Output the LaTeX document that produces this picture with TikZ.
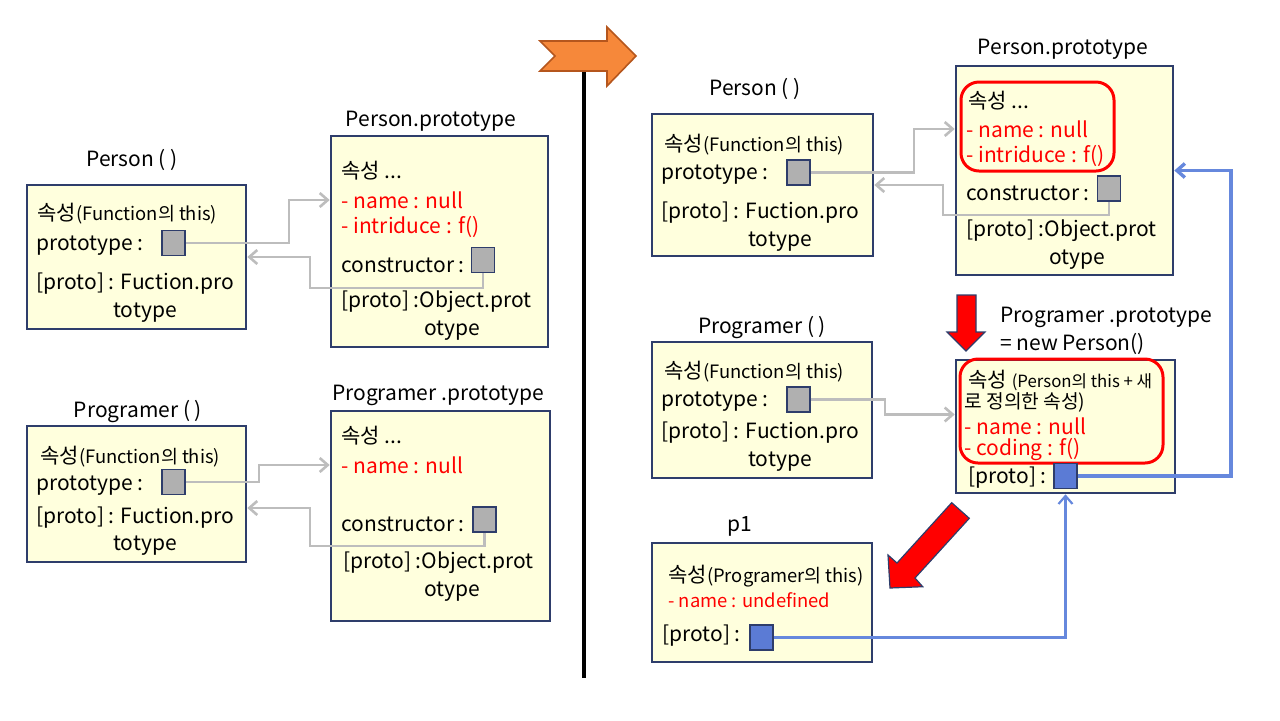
\documentclass[tikz,border=0pt]{standalone}
\usepackage{fontspec}
\setmainfont{Noto Sans CJK KR}
\usepackage{tikz}
\usetikzlibrary{arrows.meta, fit}

\definecolor{boxfill}{HTML}{FFFFDD}
\definecolor{boxline}{HTML}{2E3D6B}
\definecolor{refgray}{HTML}{B0B0B0}
\definecolor{linkgray}{HTML}{BDBDBD}
\definecolor{refblue}{HTML}{5B7BD5}
\definecolor{linkblue}{HTML}{6688DD}
\definecolor{flagorange}{HTML}{F6883A}
\definecolor{flagedge}{HTML}{B5561D}

\newcommand{\sm}[1]{{\fontsize{9.2}{11}\selectfont #1}}

\tikzset{
  objbox/.style={draw=boxline, fill=boxfill, line width=1.3pt, inner sep=0pt},
  ptr/.style={draw=boxline, fill=refgray, line width=0.8pt, inner sep=0pt,
    minimum width=11.5pt, minimum height=12.5pt},
  bptr/.style={ptr, fill=refblue},
  txt/.style={anchor=west, inner sep=0pt, yshift=-1.5pt, font=\fontsize{10.5}{12}\selectfont},
  ctxt/.style={txt, anchor=center},
  rtxt/.style={txt, text=red},
  glink/.style={->, draw=linkgray, line width=1.3pt},
  blink/.style={->, draw=linkblue, line width=1.7pt},
  grp/.style={draw=red, line width=1.5pt, rounded corners=9pt, inner sep=0pt},
  bigarrow/.style={fill=red, draw=boxline, line width=0.6pt, line join=miter},
}

\begin{document}
\begin{tikzpicture}[x=0.5pt, y=-0.5pt, >={Straight Barb[length=4pt, width=7pt]}]
    \useasboundingbox (0,0) rectangle (1280,720);

    % ---- 왼쪽: Person ( )
    \node[ctxt] (lPtitle) at (132,157) {Person ( )};
    \node[objbox, fit={(27,185) (246,329)}] (lP) {};
    \node[txt] (lP1) at (37,211) {속성\sm{(Function의 this)}};
    \node[txt] (lP2) at (36,243) {prototype :};
    \node[ptr] (lPsq) at (173.5,243) {};
    \node[txt] (lP3) at (36,281) {[proto] : Fuction.pro};
    \node[ctxt] (lP4) at (145,310) {totype};

    % Person.prototype
    \node[ctxt] (lPPtitle) at (431,118) {Person.prototype};
    \node[objbox, fit={(331,136) (548,347)}] (lPP) {};
    \node[txt] (lPP1) at (341,168) {속성 ...};
    \node[rtxt] (lPP2) at (341,197) {- name : null};
    \node[rtxt] (lPP3) at (341,224) {- intriduce : f()};
    \node[txt] (lPP4) at (341,262) {constructor :};
    \node[ptr] (lPPsq) at (483,260) {};
    \node[txt] (lPP5) at (341,299) {[proto] :Object.prot};
    \node[ctxt] (lPP6) at (452,328) {otype};

    \draw[glink] (lPsq.east) -- ++(103,0) |- (lPP.west |- lPP2);
    \draw[glink] (lPPsq.south) |- (310,288) |- (lP.east);

    % ---- 왼쪽: Programer ( )
    \node[ctxt] (lGtitle) at (138,409) {Programer ( )};
    \node[objbox, fit={(27,426) (246,562)}] (lG) {};
    \node[txt] (lG1) at (40,454) {속성\sm{(Function의 this)}};
    \node[txt] (lG2) at (36,483) {prototype :};
    \node[ptr] (lGsq) at (173.5,482) {};
    \node[txt] (lG3) at (36,515) {[proto] : Fuction.pro};
    \node[ctxt] (lG4) at (145,543) {totype};

    % Programer .prototype
    \node[ctxt] (lGPtitle) at (438,392) {Programer .prototype};
    \node[objbox, fit={(331,411) (550,621)}] (lGP) {};
    \node[txt] (lGP1) at (341,433) {속성 ...};
    \node[rtxt] (lGP2) at (341,462) {- name : null};
    \node[txt] (lGP3) at (341,521) {constructor :};
    \node[ptr] (lGPsq) at (484.5,519.5) {};
    \node[txt] (lGP4) at (343,560) {[proto] :Object.prot};
    \node[ctxt] (lGP5) at (452,589) {otype};

    \draw[glink] (lGsq.east) -- ++(73,0) |- (lGP.west |- lGP2);
    \draw[glink] (lGPsq.south) |- (310,546) |- ([yshift=-7pt]lG.east);

    % ---- 가운데 구분선
    \draw[line width=1.6pt] (584,72) -- (584,678);
    \draw[fill=flagorange, draw=flagedge, line width=0.8pt]
        (540,41) -- (607,41) -- (607,27) -- (636,56) -- (607,86)
        -- (607,71) -- (540,71) -- (555,56) -- cycle;

    % ---- 오른쪽: Person ( )
    \node[ctxt] (rPtitle) at (755,86) {Person ( )};
    \node[objbox, fit={(652,114) (873,256)}] (rP) {};
    \node[txt] (rP1) at (664,142) {속성\sm{(Function의 this)}};
    \node[txt] (rP2) at (661,172) {prototype :};
    \node[ptr] (rPsq) at (798.5,172.5) {};
    \node[txt] (rP3) at (661,210) {[proto] : Fuction.pro};
    \node[ctxt] (rP4) at (780,239) {totype};

    % Person.prototype
    \node[ctxt] (rPPtitle) at (1063,46) {Person.prototype};
    \node[objbox, fit={(956,66) (1173,275)}] (rPP) {};
    \node[grp, fit={(961,82) (1114,171)}] (rPPgrp) {};
    \node[txt] (rPP1) at (968,98) {속성 ...};
    \node[rtxt] (rPP2) at (966,126) {- name : null};
    \node[rtxt] (rPP3) at (966,153) {- intriduce : f()};
    \node[txt] (rPP4) at (966,190) {constructor :};
    \node[ptr] (rPPsq) at (1109,188.5) {};
    \node[txt] (rPP5) at (966,228) {[proto] :Object.prot};
    \node[ctxt] (rPP6) at (1077,257) {otype};

    \draw[glink] (rPsq.east) -- ++(103,0) |- (rPP.west |- rPP2);
    \draw[glink] (rPPsq.south) |- (943,215) |- (rP.east);

    % ---- 오른쪽: Programer ( )
    \node[ctxt] (rGtitle) at (762,325) {Programer ( )};
    \node[objbox, fit={(652,342) (872,478)}] (rG) {};
    \node[txt] (rG1) at (664,369) {속성\sm{(Function의 this)}};
    \node[txt] (rG2) at (661,399) {prototype :};
    \node[ptr] (rGsq) at (798.5,399.5) {};
    \node[txt] (rG3) at (661,430) {[proto] : Fuction.pro};
    \node[ctxt] (rG4) at (780,459) {totype};

    % Programer .prototype = new Person()
    \draw[bigarrow] (957,295) -- (976,295) -- (976,332) -- (985,332)
        -- (966,351) -- (947,332) -- (957,332) -- cycle;
    \node[txt] (rGPtitle) at (1000,314) {Programer .prototype};
    \node[txt] (rGPnew) at (1000,341) {= new Person()};
    \node[objbox, fit={(956,360) (1175,493)}] (rGP) {};
    \node[grp, fit={(960,359) (1163,463)}] (rGPgrp) {};
    \node[txt] (rGP1) at (968,377) {속성 {\fontsize{8.4}{10}\selectfont (Person의 this + 새}};
    \node[txt] (rGP2) at (964,399) {{\fontsize{9.6}{11}\selectfont 로 정의한 속성)}};
    \node[rtxt] (rGP3) at (964,423) {- name : null};
    \node[rtxt] (rGP4) at (964,447) {- coding : f()};
    \node[txt] (rGP5) at (968,475) {[proto] :};
    \node[bptr] (rGPsq) at (1065.5,476) {};

    \draw[glink] (rGsq.east) -- ++(74,0) |- ([yshift=6pt]rGP.west);
    \draw[blink] (rGPsq.east) -- ++(153,0) |- (rPP.east);

    % ---- p1
    \draw[bigarrow] (951.7,502.7) -- (969.3,518.3) -- (915,578) -- (922.7,586.7)
        -- (890,588) -- (888,555) -- (897,563) -- cycle;
    \node[ctxt] (p1title) at (740,523) {p1};
    \node[objbox, fit={(652,543) (872,662)}] (p1) {};
    \node[txt] (p11) at (668,573) {속성\sm{(Programer의 this)}};
    \node[rtxt] (p12) at (668,597) {\sm{- name : undefined}};
    \node[txt] (p13) at (662,633) {[proto] :};
    \node[bptr] (p1sq) at (761.5,637.5) {};

    \draw[blink, line width=1.1pt] (p1sq.east) -| (rGPsq |- rGP.south);
\end{tikzpicture}
\end{document}
